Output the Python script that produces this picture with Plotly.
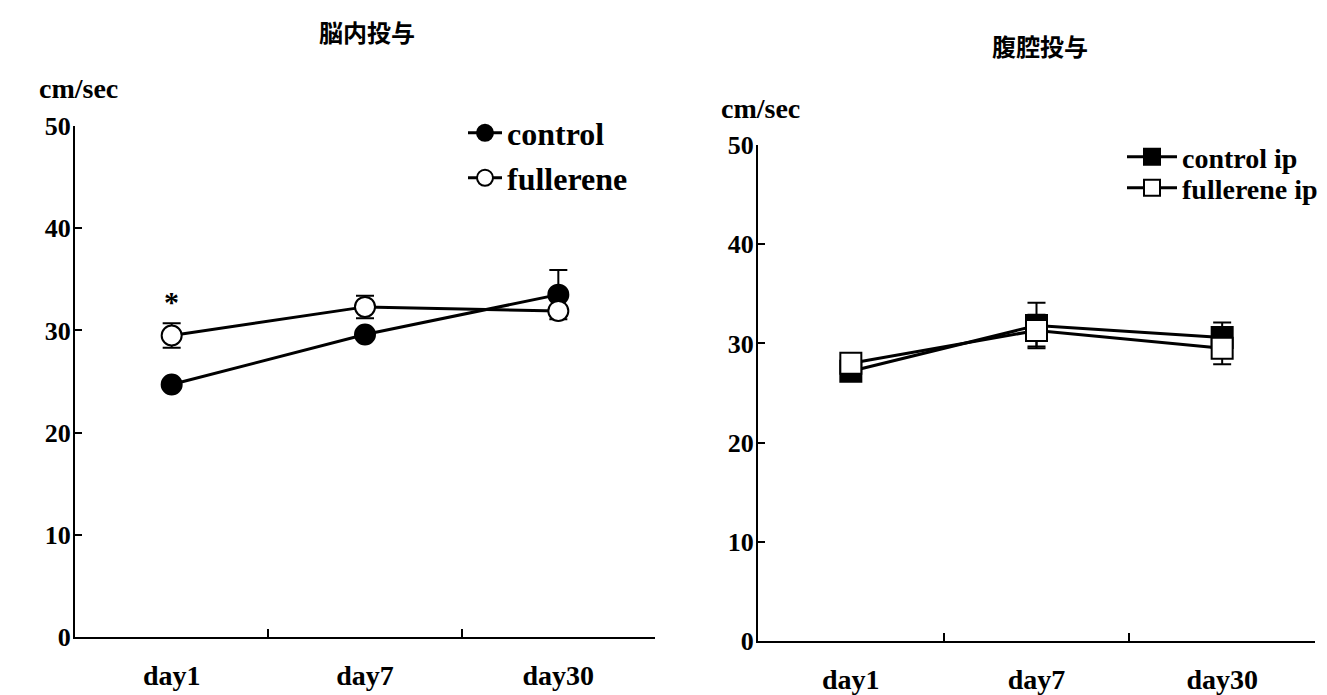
import plotly.graph_objects as go

W, H = 1319, 687      # figure size; page adds an 8px body margin
OFF = 8

days = ["day1", "day7", "day30"]

# Left panel (脳内投与)
control = [24.7, 29.6, 33.5]
control_err = [0.4, 0.5, 2.4]
fullerene = [29.5, 32.3, 31.9]
fullerene_err = [1.2, 1.1, 0.5]

# Right panel (腹腔投与)
control_ip = [27.2, 31.8, 30.6]
control_ip_err = [0.5, 2.3, 1.5]
fullerene_ip = [28.0, 31.3, 29.5]
fullerene_ip_err = [0.5, 1.6, 1.6]

yticks = [0, 10, 20, 30, 40, 50]

def px(x):
    return (x - OFF) / W

def py(y):
    return 1 - (y - OFF) / H

SERIF = dict(family="Liberation Serif, Times New Roman, serif", size=28, color="black", weight="bold")
TICK = dict(SERIF, size=26)
LEG_L = dict(SERIF, size=32)
LEG_R = dict(SERIF, size=28)
CJK = dict(family="Noto Sans CJK JP", size=24, color="black", weight="bold")

fig = go.Figure()

def add(x, y, err, name, symbol, fill, xa, ya, legend, size):
    fig.add_trace(go.Scatter(
        x=x, y=y, name=name, mode="lines+markers",
        xaxis=xa, yaxis=ya, legend=legend,
        line=dict(color="black", width=3),
        marker=dict(symbol=symbol, size=size, color=fill,
                    line=dict(color="black", width=2)),
        error_y=dict(type="data", array=err, visible=True,
                     color="black", thickness=2, width=9),
    ))

add(days, control, control_err, "control", "circle", "black", "x", "y", "legend", 20)
add(days, fullerene, fullerene_err, "fullerene", "circle", "white", "x", "y", "legend2", 20)
add(days, control_ip, control_ip_err, "control ip", "square", "black", "x2", "y2", "legend3", 21)
add(days, fullerene_ip, fullerene_ip_err, "fullerene ip", "square", "white", "x2", "y2", "legend4", 21)

xcommon = dict(type="category", range=[-0.5, 2.5], showline=True, linewidth=2,
               linecolor="black", ticks="inside", ticklen=8, tickwidth=1.5,
               tickcolor="black", tickson="boundaries", showgrid=False,
               zeroline=False, tickfont=SERIF, ticklabelstandoff=12,
               categoryorder="array", categoryarray=days, automargin=False)
ycommon = dict(range=[0, 50], tickvals=yticks, showline=True, linewidth=2,
               linecolor="black", ticks="inside", ticklen=7, tickwidth=1.5,
               tickcolor="black", showgrid=False, zeroline=False,
               tickfont=TICK, ticklabelstandoff=-3, automargin=False)

def leg(x, y, font, iw):
    return dict(x=px(x), y=py(y), xanchor="left", yanchor="middle",
                font=font, bgcolor="rgba(0,0,0,0)", itemwidth=iw)

fig.update_layout(
    width=W, height=H,
    margin=dict(l=0, r=0, t=0, b=0, autoexpand=False),
    paper_bgcolor="white", plot_bgcolor="white",
    xaxis=dict(xcommon, domain=[px(75), px(655)], anchor="y"),
    yaxis=dict(ycommon, domain=[py(637), py(126)], anchor="x"),
    xaxis2=dict(xcommon, domain=[px(758), px(1315)], anchor="y2"),
    yaxis2=dict(ycommon, domain=[py(641), py(145)], anchor="x2"),
    legend=leg(463, 133, LEG_L, 34),
    legend2=leg(463, 178, LEG_L, 34),
    legend3=leg(1122, 157, LEG_R, 50),
    legend4=leg(1122, 188, LEG_R, 50),
    showlegend=True,
    annotations=[
        dict(text="脳内投与", x=px(367), y=py(32), xref="paper", yref="paper",
             showarrow=False, font=CJK, xanchor="center", yanchor="middle"),
        dict(text="腹腔投与", x=px(1040), y=py(45), xref="paper", yref="paper",
             showarrow=False, font=CJK, xanchor="center", yanchor="middle"),
        dict(text="cm/sec", x=px(78), y=py(89), xref="paper", yref="paper",
             showarrow=False, font=SERIF, xanchor="center", yanchor="middle"),
        dict(text="cm/sec", x=px(760), y=py(108), xref="paper", yref="paper",
             showarrow=False, font=SERIF, xanchor="center", yanchor="middle"),
        dict(text="*", x="day1", y=fullerene[0], xref="x", yref="y",
             showarrow=False, font=dict(SERIF, size=30), yshift=34),
    ],
)

fig.write_html("out.html")
